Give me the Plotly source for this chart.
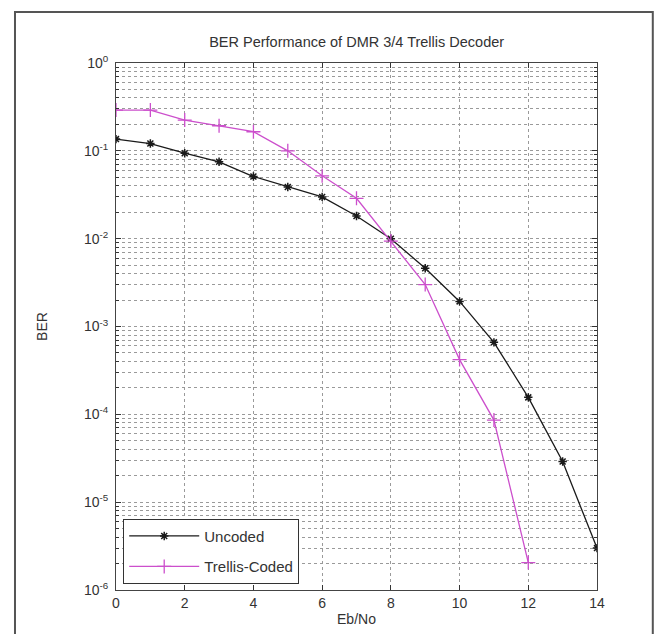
import plotly.graph_objects as go

ebno = list(range(0, 15))
uncoded = [0.136, 0.121, 0.094, 0.075, 0.051, 0.0388, 0.0299, 0.0181, 0.0100,
           0.0046, 0.00193, 6.6e-4, 1.56e-4, 2.9e-5, 3.0e-6]
ebno_tc = list(range(0, 13))
trellis = [0.291, 0.291, 0.224, 0.193, 0.165, 0.100, 0.052, 0.0288, 0.0094,
           0.0030, 4.2e-4, 8.6e-5, 2.05e-6]

ytick_vals = [1e0, 1e-1, 1e-2, 1e-3, 1e-4, 1e-5, 1e-6]
ytick_text = ["10<sup>0</sup>", "10<sup>-1</sup>", "10<sup>-2</sup>", "10<sup>-3</sup>",
              "10<sup>-4</sup>", "10<sup>-5</sup>", "10<sup>-6</sup>"]
xtick_vals = [0, 2, 4, 6, 8, 10, 12, 14]

FONT = "Liberation Sans Narrow, Liberation Sans, Arial, sans-serif"
TXT = "#333333"

fig = go.Figure()
fig.add_trace(go.Scatter(
    x=ebno, y=uncoded, name="Uncoded", mode="lines+markers", legendgroup="a",
    line=dict(color="#1a1a1a", width=1.3),
    marker=dict(symbol="asterisk-open", size=7, color="#1a1a1a",
                line=dict(color="#1a1a1a", width=1.5)),
))
fig.add_trace(go.Scatter(
    x=ebno_tc, y=trellis, name="Trellis-Coded", mode="lines+markers",
    legendgroup="b",
    line=dict(color="#cc4fcc", width=1.3),
    marker=dict(symbol="cross-thin-open", size=10, color="#cc4fcc",
                line=dict(color="#cc4fcc", width=1.3)),
))

grid_col = "#9a9a9a"
fig.update_xaxes(
    range=[0, 14], tickvals=xtick_vals, ticks="inside", ticklen=5,
    tickcolor=TXT, mirror="allticks", showline=True, linecolor="#444",
    linewidth=1, showgrid=True, gridcolor=grid_col, griddash="dot",
    gridwidth=1, zeroline=False, automargin=False,
    title=dict(text="Eb/No", font=dict(size=14, color=TXT, family=FONT),
               standoff=4),
    tickfont=dict(size=14, color=TXT, family=FONT),
)
fig.update_yaxes(
    type="log", range=[-6, 0], tickvals=ytick_vals, ticktext=ytick_text,
    ticks="inside", ticklen=5, tickcolor=TXT, mirror="allticks",
    showline=True, linecolor="#444", linewidth=1,
    showgrid=True, gridcolor=grid_col, griddash="dot", gridwidth=1,
    minor=dict(dtick="D1", showgrid=True, gridcolor=grid_col, griddash="dot",
               ticks="inside", ticklen=3, tickcolor=TXT),
    zeroline=False, automargin=False, ticklabelstandoff=4,
    title=dict(text="BER", font=dict(size=14, color=TXT, family=FONT),
               standoff=33),
    tickfont=dict(size=14, color=TXT, family=FONT),
)

fig.update_layout(
    width=659, height=634,
    margin=dict(l=116, r=62, t=63, b=44, autoexpand=False),
    paper_bgcolor="white", plot_bgcolor="white",
    title=dict(text="BER Performance of DMR 3/4 Trellis Decoder",
               x=0.5412, xanchor="center", y=1 - 42 / 634, yanchor="middle",
               font=dict(size=14.5, color=TXT, family=FONT)),
    showlegend=True,
    legend=dict(x=0.015, y=0.012, xanchor="left", yanchor="bottom",
                bgcolor="white", bordercolor="#333", borderwidth=1,
                font=dict(size=15, color=TXT, family=FONT),
                itemwidth=70, tracegroupgap=8),
    shapes=[
        dict(type="rect", xref="paper", yref="paper",
             x0=-0.21, x1=1.116, y0=-0.12, y1=1.097,
             line=dict(color="#555", width=2), fillcolor="rgba(0,0,0,0)",
             layer="above"),
    ],
)

fig.write_html("out.html", config={"displayModeBar": False},
               post_script="document.body.style.margin='0';document.body.style.padding='0';")
